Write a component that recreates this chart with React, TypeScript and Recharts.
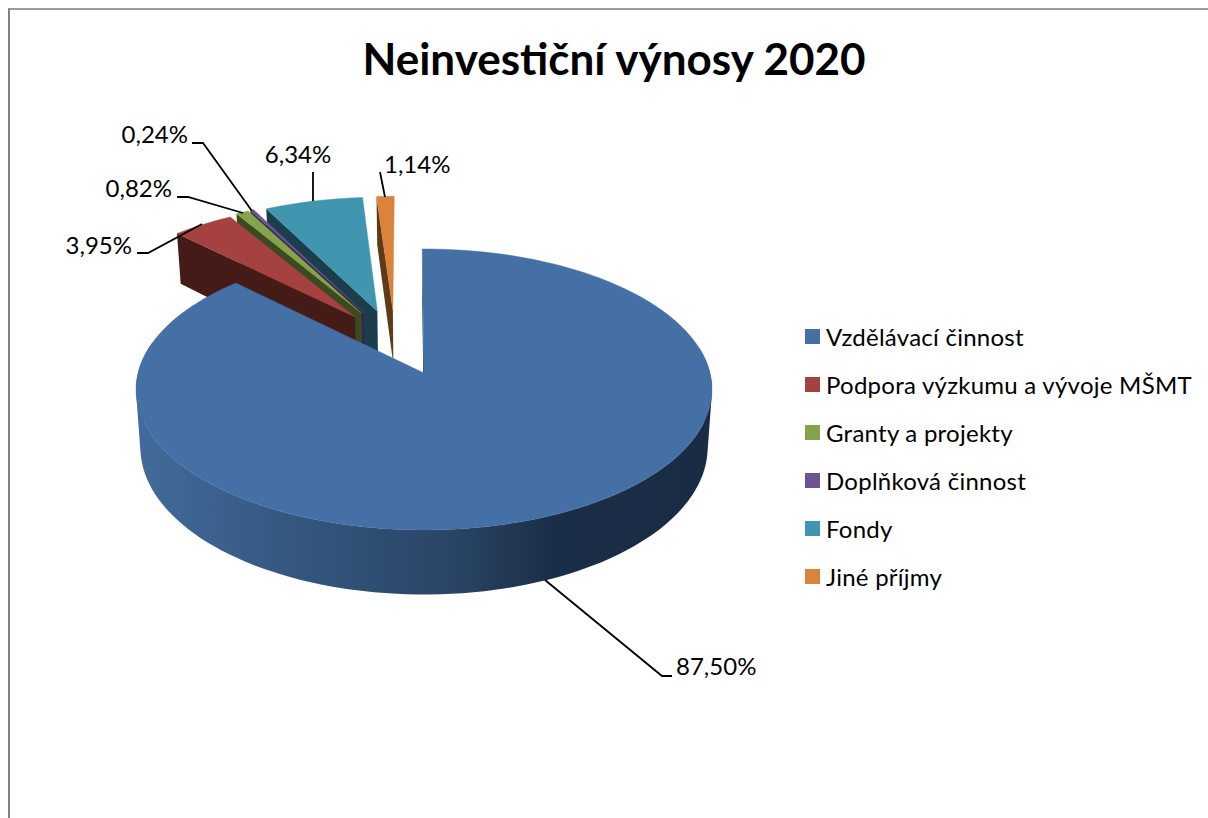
import { PieChart, Pie, Legend } from "recharts";

const CATEGORIES = [
  "Vzdělávací činnost",
  "Podpora výzkumu a vývoje MŠMT",
  "Granty a projekty",
  "Doplňková činnost",
  "Fondy",
  "Jiné příjmy",
];
const VALUES = [87.5, 3.95, 0.82, 0.24, 6.34, 1.14];
const COLORS = ["#4570a6", "#a5423f", "#85a349", "#6d5392", "#3f96ae", "#d9833b"];
const WALLS = ["url(#blueWall)", "#451b18", "#3b4a20", "#33264a", "#1b3e4c", "#5e3a18"];

// explosion of each slice on the pie plane, in radii (sideways, backwards)
const EXPLODE = [
  [0, 0],
  [-0.253, 0.424],
  [-0.23, 0.455],
  [-0.222, 0.46],
  [-0.172, 0.47],
  [-0.115, 0.48],
];

// leader polyline + text anchor of every data label
const LABELS = [
  { line: "545,580 662,676 672,676", x: 676, y: 665, anchor: "start" },
  { line: "137,253 148,253 202,224", x: 132, y: 244, anchor: "end" },
  { line: "177,197 188,197 243,213", x: 172, y: 187, anchor: "end" },
  { line: "192,143 203,143 252,211", x: 188, y: 133, anchor: "end" },
  { line: "313,172 313,201", x: 298, y: 153, anchor: "middle" },
  { line: "380,172 385,197", x: 384, y: 163, anchor: "start" },
];

// pie is drawn counter clockwise from the reversed table so that the big slice paints last
const tableData = CATEGORIES.map((name, i) => ({
  name,
  value: VALUES[i],
  fill: COLORS[i],
})).reverse();

const FONT = "Lato, 'Noto Sans', sans-serif";
const TILT = 0.4846;
const PERSP = 0.117;
const DEPTH = 57;
const ROTATE = 0.4;
const BOTTOM_SHRINK = 0.985;

type Pt = [number, number];
const toPath = (pts: Pt[]) => "M" + pts.map((p) => `${p[0].toFixed(2)},${p[1].toFixed(2)}`).join("L") + "Z";

// same winding for every quad, otherwise the folded side of the rim cancels out under nonzero fill
const wound = (pts: Pt[]) => {
  const area = pts.reduce((sum, p, i) => {
    const q = pts[(i + 1) % pts.length];
    return sum + p[0] * q[1] - q[0] * p[1];
  }, 0);
  return area < 0 ? [...pts].reverse() : pts;
};

function Slice3D(props: any) {
  const { cx, cy, outerRadius, startAngle, endAngle, name, fill } = props;
  const idx = CATEGORIES.indexOf(name);
  const [ox, oy] = EXPLODE[idx];
  const rimScale = idx === 0 ? 1 : 1.02;

  const project = (deg: number, r: number, down: boolean): Pt => {
    const a = ((deg + ROTATE) * Math.PI) / 180;
    const u = ox + r * rimScale * Math.cos(a);
    const v = oy + r * rimScale * Math.sin(a);
    const w = 1 + PERSP * v;
    const x = (outerRadius * u) / w;
    const y = cy - (outerRadius * TILT * v) / w + (down ? DEPTH / w : 0);
    return [cx + (down ? x * BOTTOM_SHRINK : x), y];
  };

  const steps = Math.max(2, Math.ceil(Math.abs(endAngle - startAngle) / 2));
  const angles = Array.from({ length: steps + 1 }, (_, i) => startAngle + ((endAngle - startAngle) * i) / steps);
  const rim = angles.map((a) => project(a, 1, false));
  const wall = WALLS[idx];
  // the angles run counter clockwise here, so only the end edge of a slice can face the viewer
  const cutWall = toPath([
    project(endAngle, 0, false),
    project(endAngle, 1, false),
    project(endAngle, 1, true),
    project(endAngle, 0, true),
  ]);
  // back of the rim faces away, keep only the front quads
  const rimWall = angles
    .slice(1)
    .map((a, i) =>
      Math.sin((a * Math.PI) / 180) > 0.2
        ? ""
        : toPath(
            wound([
              project(angles[i], 1, false),
              project(a, 1, false),
              project(a, 1, true),
              project(angles[i], 1, true),
            ]),
          ),
    )
    .join("");

  return (
    <g>
      <path d={cutWall} fill={idx === 0 ? "#1a2c44" : wall} />
      {rimWall && <path d={rimWall} fill={wall} />}
      <path d={toPath([project(startAngle, 0, false), ...rim])} fill={fill} stroke={fill} strokeWidth={0.4} />
    </g>
  );
}

function DataLabel(props: any) {
  const { name, value } = props;
  const spec = LABELS[CATEGORIES.indexOf(name)];
  return (
    <g>
      <polyline points={spec.line} fill="none" stroke="#000" strokeWidth={1.8} />
      <text
        x={spec.x}
        y={spec.y}
        textAnchor={spec.anchor}
        dominantBaseline="central"
        fontFamily={FONT}
        fontSize={24}
        fill="#000"
      >
        {value.toFixed(2).replace(".", ",")}%
      </text>
    </g>
  );
}

function LegendList(props: any) {
  const items = [...(props.payload || [])].sort(
    (a, b) => CATEGORIES.indexOf(a.value) - CATEGORIES.indexOf(b.value),
  );
  return (
    <div>
      {items.map((item) => (
        <div key={item.value} style={{ display: "flex", alignItems: "center", height: 48, whiteSpace: "nowrap" }}>
          <span style={{ width: 15, height: 15, background: item.color, marginRight: 6, flex: "none" }} />
          <span style={{ fontFamily: FONT, fontSize: 24, letterSpacing: 0.25, color: "#000" }}>{item.value}</span>
        </div>
      ))}
    </div>
  );
}

export default function App() {
  return (
    <div style={{ position: "absolute", left: 0, top: 0, width: 1208, height: 818, overflow: "hidden", background: "#fff" }}>
      <div
        style={{
          position: "absolute",
          left: 8,
          top: 8,
          width: 1300,
          height: 900,
          borderLeft: "2px solid #808080",
          borderTop: "2px solid #9a9a9a",
        }}
      />
      <div style={{ position: "absolute", left: 0, top: 0 }}>
        <PieChart width={1208} height={818} margin={{ top: 0, right: 0, bottom: 0, left: 0 }}>
          <defs>
            <linearGradient id="blueWall" gradientUnits="userSpaceOnUse" x1="136" y1="0" x2="712" y2="0">
              <stop offset="0" stopColor="#426b9b" />
              <stop offset="0.3" stopColor="#33557d" />
              <stop offset="0.55" stopColor="#2a4566" />
              <stop offset="0.72" stopColor="#1b2e47" />
              <stop offset="1" stopColor="#1a2c44" />
            </linearGradient>
          </defs>
          <text x={614} y={58} textAnchor="middle" dominantBaseline="central" fontFamily={FONT} fontWeight={700} fontSize={44} fill="#000">
            Neinvestiční výnosy 2020
          </text>
          <Pie
            data={tableData}
            dataKey="value"
            nameKey="name"
            cx={424}
            cy={373}
            outerRadius={286}
            startAngle={90}
            endAngle={450}
            legendType="square"
            shape={Slice3D}
            label={DataLabel}
            labelLine={false}
            isAnimationActive={false}
          />
          <Legend
            layout="vertical"
            content={LegendList}
            wrapperStyle={{ position: "absolute", left: 805, top: 312, width: 400, height: 288 }}
          />
        </PieChart>
      </div>
    </div>
  );
}
